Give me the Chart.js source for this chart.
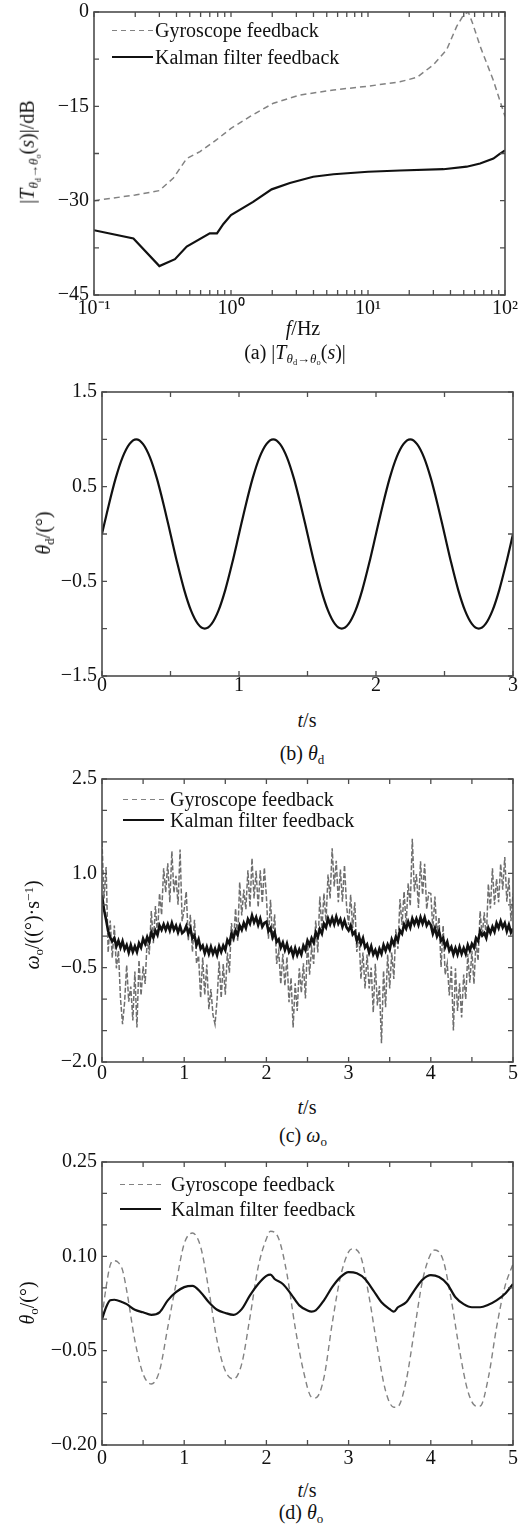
<!DOCTYPE html>
<html>
<head>
<meta charset="utf-8">
<script src="https://cdn.jsdelivr.net/npm/chart.js@4"></script>
<style>
body { margin: 0; background: #fff; }
#page { position: relative; width: 529px; height: 1526px; font-family: "Liberation Serif", "Times New Roman", serif; color: #111; font-size: 20px; }
#page canvas { position: absolute; left: 0; }
.t, .yt, .leg { position: absolute; white-space: nowrap; line-height: 1; }
.t { transform: translate(-50%, -50%); }
.yt { transform: translate(-50%, -50%) rotate(-90deg); }
.leg { transform: translateY(-50%); }
.ln { position: absolute; }
.ln.dash { height: 1.4px; background: repeating-linear-gradient(to right, #828282 0 5px, transparent 5px 9px); }
.ln.solid { height: 2px; background: #111; }
sub { font-size: 65%; vertical-align: -0.3em; line-height: 0; }
sup { font-size: 65%; vertical-align: 0.5em; line-height: 0; }
</style>
</head>
<body>
<div id="page">
  <canvas id="chartA" width="529" height="322" style="top:0px"></canvas>
  <canvas id="chartB" width="529" height="322" style="top:380px"></canvas>
  <canvas id="chartC" width="529" height="322" style="top:767px"></canvas>
  <canvas id="chartD" width="529" height="322" style="top:1150px"></canvas>

  <!-- (a) -->
  <div class="yt" style="left:27px; top:152px">|<i>T</i><sub><i>θ</i><sub>d</sub>→<i>θ</i><sub>o</sub></sub>(<i>s</i>)|/dB</div>
  <div class="t" style="left:303px; top:328px"><i>f</i>/Hz</div>
  <div class="t" style="left:295px; top:352px">(a) |<i>T</i><sub><i>θ</i><sub>d</sub>→<i>θ</i><sub>o</sub></sub>(<i>s</i>)|</div>
  <div class="ln dash" style="left:112px; width:41px; top:30px"></div>
  <div class="leg" style="left:155px; top:30px">Gyroscope feedback</div>
  <div class="ln solid" style="left:112px; width:41px; top:56px"></div>
  <div class="leg" style="left:155px; top:57px">Kalman filter feedback</div>

  <!-- (b) -->
  <div class="yt" style="left:43px; top:533px"><i>θ</i><sub>d</sub>/(°)</div>
  <div class="t" style="left:307px; top:720px"><i>t</i>/s</div>
  <div class="t" style="left:302px; top:753px">(b) <i>θ</i><sub>d</sub></div>

  <!-- (c) -->
  <div class="yt" style="left:32px; top:925px"><i>ω</i><sub>o</sub>/((°)·s<sup>−1</sup>)</div>
  <div class="t" style="left:307px; top:1107px"><i>t</i>/s</div>
  <div class="t" style="left:303px; top:1135px">(c) <i>ω</i><sub>o</sub></div>
  <div class="ln dash" style="left:123px; width:41px; top:799px"></div>
  <div class="leg" style="left:170px; top:799px">Gyroscope feedback</div>
  <div class="ln solid" style="left:123px; width:41px; top:819px"></div>
  <div class="leg" style="left:170px; top:820px">Kalman filter feedback</div>

  <!-- (d) -->
  <div class="yt" style="left:27px; top:1303px"><i>θ</i><sub>o</sub>/(°)</div>
  <div class="t" style="left:307px; top:1490px"><i>t</i>/s</div>
  <div class="t" style="left:301px; top:1512px">(d) <i>θ</i><sub>o</sub></div>
  <div class="ln dash" style="left:120px; width:41px; top:1184px"></div>
  <div class="leg" style="left:171px; top:1184px">Gyroscope feedback</div>
  <div class="ln solid" style="left:120px; width:41px; top:1208px"></div>
  <div class="leg" style="left:171px; top:1209px">Kalman filter feedback</div>
</div>

<script>
// --- (a) frequency response, dB ---
const fGyroA = [0.1, 0.2, 0.3, 0.38, 0.475, 0.594, 0.786, 1.0, 1.38, 2.04, 3.19, 5.6, 10, 17.1, 22.7, 30, 37.5, 44.4, 50, 54, 58, 66, 82, 100];
const dbGyroA = [-30.0, -29.1, -28.4, -26.4, -23.3, -22.2, -20.3, -18.5, -16.6, -14.5, -13.2, -12.4, -11.8, -11.1, -10.4, -8.4, -6.0, -2.3, -0.4, 0, -1.8, -5.5, -10.8, -16.6];
const fKalA = [0.1, 0.194, 0.30, 0.39, 0.475, 0.70, 0.79, 0.88, 1.0, 1.45, 1.98, 2.69, 3.98, 5.6, 10, 17.1, 35.5, 52.5, 65.8, 82.3, 91, 100];
const dbKalA = [-34.7, -36.0, -40.4, -39.3, -37.3, -35.2, -35.2, -33.7, -32.3, -30.2, -28.2, -27.2, -26.2, -25.8, -25.4, -25.2, -25.0, -24.6, -24.1, -23.3, -22.6, -22.0];
const fTicksA = [0.1, 0.2, 0.3, 0.4, 0.5, 0.6, 0.7, 0.8, 0.9, 1, 2, 3, 4, 5, 6, 7, 8, 9, 10, 20, 30, 40, 50, 60, 70, 80, 90, 100];
const fLabelsA = [0.1, 1, 10, 100];
const fLabelTextA = ['10\u207B\u00B9', '10\u2070', '10\u00B9', '10\u00B2'];
const yTicksA = [0, -7.5, -15, -22.5, -30, -37.5, -45];
const yLabelsA = [0, -15, -30, -45];

// --- (b) reference angle, sampled every 0.05 s ---
const dtB = 0.05;
const thetaDB = [
  0, 0.31, 0.59, 0.81, 0.95, 1.0, 0.95, 0.81, 0.59, 0.31, 0, -0.31, -0.59, -0.81, -0.95, -1.0, -0.95, -0.81, -0.59, -0.31,
  0, 0.31, 0.59, 0.81, 0.95, 1.0, 0.95, 0.81, 0.59, 0.31, 0, -0.31, -0.59, -0.81, -0.95, -1.0, -0.95, -0.81, -0.59, -0.31,
  0, 0.31, 0.59, 0.81, 0.95, 1.0, 0.95, 0.81, 0.59, 0.31, 0, -0.31, -0.59, -0.81, -0.95, -1.0, -0.95, -0.81, -0.59, -0.31,
  0
];
const tTicksB = [0, 0.5, 1, 1.5, 2, 2.5, 3];
const tLabelsB = [0, 1, 2, 3];
const yTicksB = [-1.5, -1, -0.5, 0, 0.5, 1, 1.5];
const yLabelsB = [1.5, 0.5, -0.5, -1.5];

// --- (c) angular rate, sampled every 0.025 s ---
const dtC = 0.025;
const gyroC = [
  1.50, 0.60, 1.10, -0.26, 0.25, -0.34, 0.17, -0.51, -0.23, -0.99, -1.40, -1.05, -0.46, -1.04, -0.80, -1.34, -0.56, -1.45, -0.38, -0.94,
  -0.48, -0.76, -0.03, -0.29, 0.40, -0.11, 0.48, 0.01, 0.68, 0.34, 1.08, 0.70, 1.16, 0.54, 1.35, 0.69, 0.96, 0.50, 1.38, 0.24,
  0.43, 0.71, -0.07, 0.34, -0.25, 0.26, -0.43, -0.31, -0.98, -0.34, -0.93, -0.45, -1.16, -0.84, -1.25, -1.40, -1.01, -0.40, -0.98, -0.44,
  -0.93, -0.26, -0.58, 0.21, -0.10, 0.44, -0.07, 0.86, 0.33, 0.74, 0.43, 1.05, 0.46, 1.24, 0.60, 1.04, 0.46, 1.05, 0.53, 1.09,
  0.63, -0.04, 0.58, -0.06, 0.35, -0.44, -0.23, -0.76, -0.28, -0.79, -0.33, -1.05, -0.66, -1.45, -0.75, -1.19, -0.51, -0.90, -0.43, -0.99,
  -0.08, -0.61, -0.18, -0.44, 0.25, -0.26, 0.63, 0.11, 0.68, 0.24, 0.98, 0.60, 1.40, 0.79, 1.20, 0.54, 1.06, 0.55, 1.13, 0.49,
  0.18, 0.66, 0.13, 0.54, -0.25, 0.06, -0.68, -0.26, -0.83, -0.29, -0.83, -0.50, -1.21, -0.44, -1.10, -0.79, -1.70, -0.55, -1.13, -0.29,
  -0.83, -0.26, -0.68, 0.11, -0.20, 0.59, 0.18, 0.71, 0.18, 0.84, 0.48, 1.55, 0.71, 0.99, 0.45, 1.19, 0.66, 1.15, 0.43, 0.69,
  0.68, 0.11, 0.63, 0.04, 0.30, -0.49, 0.17, -0.61, -0.43, -0.94, -0.48, -1.50, -0.51, -1.19, -0.75, -1.29, -0.61, -1.00, -0.28, -0.74,
  -0.23, -0.76, -0.08, -0.39, 0.40, -0.01, 0.38, -0.04, 0.83, 0.44, 1.08, 0.50, 0.91, 0.54, 1.15, 0.74, 1.26, 0.55, 0.93, 0.24,
  0.68
];
const kalC = [
  0.65, 0.42, 0.26, 0.08, -0.02, -0.08, -0.03, -0.16, -0.07, -0.18, -0.08, -0.21, -0.14, -0.26, -0.14, -0.25, -0.16, -0.25, -0.11, -0.18,
  -0.04, -0.12, -0.01, -0.09, 0.06, -0.02, 0.09, 0.02, 0.17, 0.10, 0.19, 0.10, 0.19, 0.09, 0.21, 0.10, 0.17, 0.06, 0.16, 0.05,
  0.08, 0.16, 0.04, 0.12, -0.03, 0.01, -0.14, -0.05, -0.20, -0.15, -0.27, -0.17, -0.28, -0.17, -0.28, -0.20, -0.30, -0.16, -0.25, -0.15,
  -0.22, -0.06, -0.12, 0.04, -0.03, 0.09, 0.02, 0.17, 0.10, 0.21, 0.13, 0.27, 0.20, 0.33, 0.22, 0.30, 0.18, 0.28, 0.15, 0.21,
  0.23, 0.08, 0.13, -0.02, 0.06, -0.09, -0.05, -0.18, -0.10, -0.22, -0.12, -0.25, -0.19, -0.31, -0.19, -0.30, -0.21, -0.29, -0.15, -0.22,
  -0.07, -0.14, -0.03, -0.10, 0.06, -0.01, 0.11, 0.04, 0.20, 0.14, 0.28, 0.19, 0.29, 0.19, 0.31, 0.20, 0.27, 0.15, 0.25, 0.14,
  0.09, 0.17, 0.03, 0.07, -0.07, 0.01, -0.12, -0.03, -0.18, -0.13, -0.26, -0.16, -0.29, -0.22, -0.32, -0.20, -0.28, -0.14, -0.23, -0.13,
  -0.21, -0.05, -0.13, -0.01, -0.07, 0.09, 0.04, 0.19, 0.12, 0.23, 0.14, 0.28, 0.19, 0.28, 0.18, 0.30, 0.20, 0.30, 0.17, 0.23,
  0.18, 0.04, 0.13, 0.00, 0.08, -0.07, -0.03, -0.17, -0.09, -0.23, -0.17, -0.29, -0.19, -0.29, -0.17, -0.28, -0.19, -0.28, -0.14, -0.23,
  -0.12, -0.18, -0.03, -0.08, 0.08, 0.01, 0.05, -0.03, 0.13, 0.05, 0.15, 0.07, 0.21, 0.13, 0.24, 0.14, 0.21, 0.08, 0.18, 0.06,
  0.12
];
const tTicksC = [0, 0.5, 1, 1.5, 2, 2.5, 3, 3.5, 4, 4.5, 5];
const tLabelsC = [0, 1, 2, 3, 4, 5];
const yTicksC = [-2, -1.5, -1, -0.5, 0, 0.5, 1, 1.5, 2, 2.5];
const yLabelsC = [2.5, 1.0, -0.5, -2.0];

// --- (d) output angle ---
const tGyroD = [0, 0.05, 0.1, 0.15, 0.2, 0.25, 0.3, 0.4, 0.5, 0.6, 0.7, 0.8, 0.9, 1.0, 1.1, 1.2, 1.3, 1.4, 1.5, 1.6, 1.7, 1.8, 1.9,
  2.0, 2.05, 2.15, 2.25, 2.35, 2.45, 2.55, 2.6, 2.7, 2.8, 2.9, 3.0, 3.05, 3.15, 3.25, 3.35, 3.45, 3.55, 3.6, 3.7, 3.8, 3.9,
  4.0, 4.05, 4.15, 4.25, 4.35, 4.45, 4.55, 4.6, 4.7, 4.8, 4.9, 5.0];
const gyroD = [0.003, 0.051, 0.086, 0.093, 0.09, 0.078, 0.046, -0.034, -0.087, -0.103, -0.082, -0.013, 0.056, 0.12, 0.137, 0.115, 0.046, -0.034, -0.082, -0.095, -0.071, 0.003, 0.083,
  0.128, 0.14, 0.128, 0.072, -0.013, -0.082, -0.124, -0.125, -0.093, -0.007, 0.067, 0.107, 0.112, 0.099, 0.035, -0.045, -0.114, -0.14, -0.139, -0.098, -0.018, 0.062,
  0.104, 0.11, 0.094, 0.03, -0.05, -0.114, -0.138, -0.138, -0.093, -0.013, 0.051, 0.088];
const tKalD = [0, 0.05, 0.1, 0.15, 0.25, 0.3, 0.4, 0.5, 0.6, 0.7, 0.8, 0.9, 1.0, 1.1, 1.2, 1.3, 1.4, 1.5, 1.6, 1.7, 1.8, 1.9, 2.0,
  2.05, 2.1, 2.2, 2.3, 2.4, 2.5, 2.55, 2.6, 2.7, 2.8, 2.9, 3.0, 3.1, 3.2, 3.3, 3.4, 3.5, 3.55, 3.6, 3.7, 3.8, 3.9,
  4.0, 4.1, 4.2, 4.3, 4.4, 4.5, 4.6, 4.7, 4.8, 4.9, 5.0];
const kalD = [0.0, 0.019, 0.03, 0.031, 0.027, 0.024, 0.015, 0.011, 0.007, 0.011, 0.03, 0.043, 0.051, 0.053, 0.043, 0.027, 0.015, 0.01, 0.007, 0.016, 0.038, 0.056, 0.069,
  0.071, 0.064, 0.056, 0.04, 0.022, 0.014, 0.012, 0.014, 0.03, 0.051, 0.067, 0.075, 0.073, 0.064, 0.046, 0.027, 0.016, 0.012, 0.019, 0.027, 0.046, 0.063,
  0.07, 0.067, 0.056, 0.035, 0.024, 0.019, 0.019, 0.023, 0.03, 0.04, 0.056];
const tTicksD = [0, 0.5, 1, 1.5, 2, 2.5, 3, 3.5, 4, 4.5, 5];
const tLabelsD = [0, 1, 2, 3, 4, 5];
const yTicksD = [-0.2, -0.15, -0.1, -0.05, 0, 0.05, 0.1, 0.15, 0.2, 0.25];
const yLabelsD = [0.25, 0.10, -0.05, -0.20];

// --- helpers ---
const serif = '"Liberation Serif", "Times New Roman", serif';
const ink = '#111';
const frameColor = '#4d4d4d';

function fmt(v, dec) {
  return v.toFixed(dec).replace('-', '\u2212');
}

function labelPicker(labels, dec) {
  return v => {
    const hit = labels.find(l => Math.abs(l - v) < 1e-9);
    return hit === undefined ? '' : fmt(hit, dec);
  };
}

function pts(xs, ys) {
  return ys.map((y, i) => ({ x: xs[i], y }));
}

function sampled(ys, dt) {
  return ys.map((y, i) => ({ x: i * dt, y }));
}

// box frame + inward ticks on all four sides, MATLAB style
const frameTicks = {
  id: 'frameTicks',
  afterDraw(chart) {
    const { ctx, chartArea: a, scales: { x, y } } = chart;
    const len = 5;
    ctx.save();
    ctx.strokeStyle = frameColor;
    ctx.lineWidth = 1.3;
    ctx.beginPath();
    x.ticks.forEach(t => {
      const px = x.getPixelForValue(t.value);
      ctx.moveTo(px, a.bottom); ctx.lineTo(px, a.bottom - len);
      ctx.moveTo(px, a.top); ctx.lineTo(px, a.top + len);
    });
    y.ticks.forEach(t => {
      const py = y.getPixelForValue(t.value);
      ctx.moveTo(a.left, py); ctx.lineTo(a.left + len, py);
      ctx.moveTo(a.right, py); ctx.lineTo(a.right - len, py);
    });
    ctx.stroke();
    ctx.lineWidth = 1.6;
    ctx.strokeRect(a.left, a.top, a.right - a.left, a.bottom - a.top);
    ctx.restore();
  }
};

// labelGap: distance from the axis line to the top of the label box
function xAxis(type, min, max, tickVals, labelFn, height, labelGap) {
  return {
    type, min, max,
    grid: { display: false, drawTicks: false },
    border: { display: false },
    afterBuildTicks: s => { s.ticks = tickVals.map(v => ({ value: v })); },
    afterFit: s => { s.height = height; },
    ticks: {
      autoSkip: false, maxRotation: 0, minRotation: 0, padding: labelGap,
      color: ink, font: { family: serif, size: 20, lineHeight: 1 },
      callback: labelFn
    }
  };
}

function yAxis(min, max, tickVals, labelFn, width) {
  return {
    type: 'linear', min, max,
    grid: { display: false, drawTicks: true, tickLength: 5 },
    border: { display: false },
    afterBuildTicks: s => { s.ticks = tickVals.map(v => ({ value: v })); },
    afterFit: s => { s.width = width; },
    ticks: {
      autoSkip: false, padding: 0,
      color: ink, font: { family: serif, size: 20, lineHeight: 1 },
      callback: labelFn
    }
  };
}

function gyroSet(data, dash, color, width) {
  return { data, borderColor: color, borderWidth: width, borderDash: dash, pointRadius: 0, fill: false, order: 1 };
}

function kalSet(data, width) {
  return { data, borderColor: '#111', borderWidth: width, pointRadius: 0, fill: false, order: 0 };
}

function plot(id, box, xScale, yScale, datasets) {
  return new Chart(document.getElementById(id), {
    type: 'line',
    data: { datasets },
    options: {
      responsive: false,
      animation: false,
      events: [],
      layout: { padding: { top: box.top, right: 529 - box.right, left: 0, bottom: 0 } },
      plugins: { legend: { display: false }, tooltip: { enabled: false } },
      scales: { x: xScale, y: yScale }
    },
    plugins: [frameTicks]
  });
}

// (a)
plot('chartA', { top: 12, right: 505 },
  xAxis('logarithmic', 0.1, 100, fTicksA, v => {
    const k = fLabelsA.findIndex(l => Math.abs(l - v) < 1e-9);
    return k < 0 ? '' : fLabelTextA[k];
  }, 322 - 295, 4),
  yAxis(-45, 0, yTicksA, labelPicker(yLabelsA, 0), 94),
  [
    gyroSet(pts(fGyroA, dbGyroA), [6, 4], '#828282', 1.5),
    kalSet(pts(fKalA, dbKalA), 2.2)
  ]);

// (b)
plot('chartB', { top: 12, right: 513 },
  xAxis('linear', 0, 3, tTicksB, labelPicker(tLabelsB, 0), 322 - 296, 0),
  yAxis(-1.5, 1.5, yTicksB, labelPicker(yLabelsB, 1), 102),
  [
    { data: sampled(thetaDB, dtB), borderColor: '#111', borderWidth: 2.2, pointRadius: 0, fill: false, cubicInterpolationMode: 'monotone' }
  ]);

// (c)
plot('chartC', { top: 12, right: 513 },
  xAxis('linear', 0, 5, tTicksC, labelPicker(tLabelsC, 0), 322 - 295, 2),
  yAxis(-2, 2.5, yTicksC, labelPicker(yLabelsC, 1), 102),
  [
    gyroSet(sampled(gyroC, dtC), [5, 2], '#6e6e6e', 1.5),
    kalSet(sampled(kalC, dtC), 2.6)
  ]);

// (d)
plot('chartD', { top: 12, right: 513 },
  xAxis('linear', 0, 5, tTicksD, labelPicker(tLabelsD, 0), 322 - 295, 4),
  yAxis(-0.2, 0.25, yTicksD, labelPicker(yLabelsD, 2), 102),
  [
    Object.assign(gyroSet(pts(tGyroD, gyroD), [6, 4], '#828282', 1.4), { cubicInterpolationMode: 'monotone' }),
    Object.assign(kalSet(pts(tKalD, kalD), 2.2), { cubicInterpolationMode: 'monotone' })
  ]);
</script>
</body>
</html>
